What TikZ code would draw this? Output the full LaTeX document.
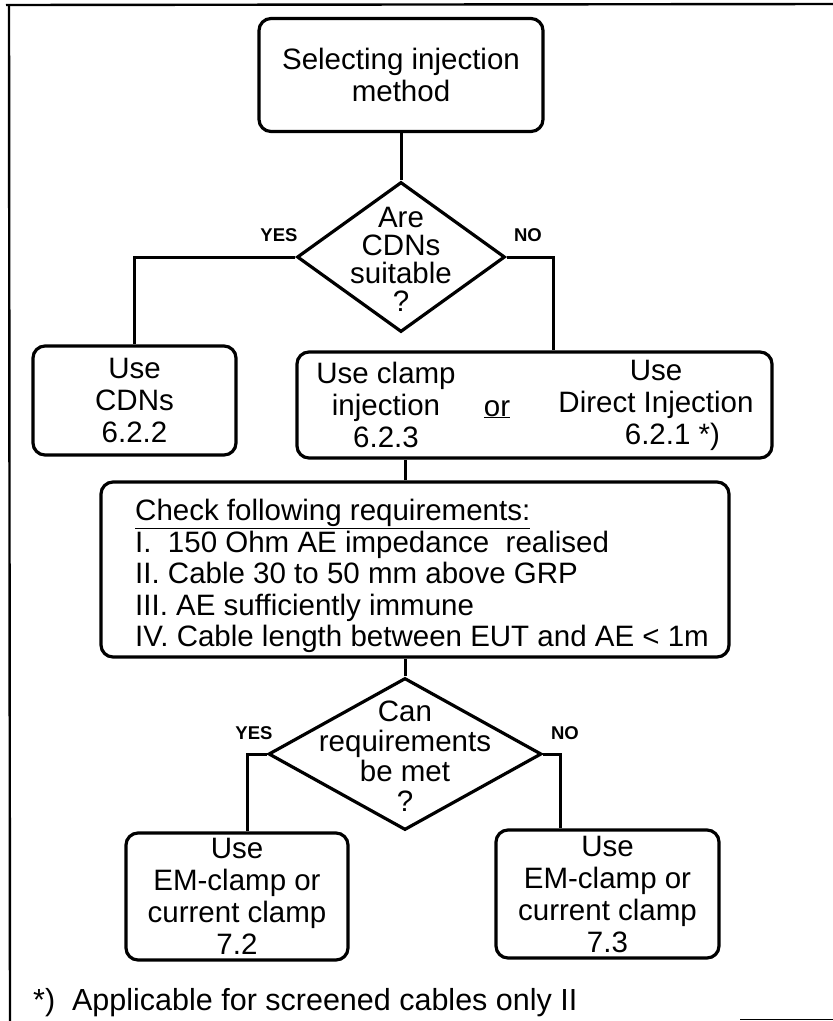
\documentclass[tikz,border=0pt]{standalone}
\usepackage{fontspec}
\setmainfont{Liberation Sans}
\usetikzlibrary{shapes.geometric}
\begin{document}
\begin{tikzpicture}[x=1pt,y=-1pt,
  box/.style={draw, line width=3.2pt, rounded corners=12pt, inner sep=0pt},
  dia/.style={draw, diamond, line width=3.2pt, inner sep=0pt},
  txt/.style={font=\fontsize{29.5}{32}\selectfont, align=center, inner sep=0pt},
  lbl/.style={font=\fontsize{18.5}{20}\selectfont\bfseries, inner sep=0pt},
  con/.style={line width=3pt},
  frame/.style={line width=2.4pt}]
\useasboundingbox (0,0) rectangle (833,1021);
% frame
\draw[frame] (6,5) -- (833,4);
\draw[frame] (9,5) -- (10,1021);
\draw[line width=1.5pt] (740,1019.5) -- (833,1019.5);
% nodes
\node[box, txt, minimum width=284pt, minimum height=113pt] (top) at (401,75) {Selecting injection\\method};
\node[dia, minimum width=208pt, minimum height=150pt] (d1) at (401,257) {};
\node[txt, font=\fontsize{29.5}{28}\selectfont] (d1txt) at (401,259) {Are\\CDNs\\suitable\\?};
\node[lbl] (yes1) at (279,235) {YES};
\node[lbl] (no1) at (528,235) {NO};
\node[box, txt, minimum width=203pt, minimum height=109pt] (cdn) at (134.5,400.5) {Use\\CDNs\\6.2.2};
\node[box, minimum width=475pt, minimum height=106pt] (clamp) at (534.5,405) {};
\node[txt] (clampL) at (386,405) {Use clamp\\injection\\6.2.3};
\node[txt, anchor=base] (clampOr) at (497,416) {\underline{or}};
\node[txt] (clampR) at (656,405) {Use\\Direct Injection\\\hphantom{00}6.2.1 *)};
\node[box, minimum width=628pt, minimum height=175pt] (check) at (415,569.5) {};
\node[txt, font=\fontsize{29.5}{31.5}\selectfont, align=left, anchor=west] (checktxt) at (135,576)
  {\underline{Check following requirements:}\\I.\ \ 150 Ohm AE impedance\ \ realised\\II. Cable 30 to 50 mm above GRP\\III. AE sufficiently immune\\IV. Cable length between EUT and AE < 1m};
\node[dia, minimum width=273pt, minimum height=152pt] (d2) at (405,754) {};
\node[txt, font=\fontsize{29.5}{30}\selectfont] (d2txt) at (405,756) {Can\\requirements\\be met\\?};
\node[lbl] (yes2) at (254,733) {YES};
\node[lbl] (no2) at (565,733) {NO};
\node[box, txt, minimum width=222pt, minimum height=127pt] (b72) at (237,896.5) {Use\\EM-clamp or\\current clamp\\7.2};
\node[box, txt, minimum width=223pt, minimum height=128pt] (b73) at (607.5,894) {Use\\EM-clamp or\\current clamp\\7.3};
\node[anchor=base west, inner sep=0pt, font=\fontsize{30.5}{31}\selectfont] (fn) at (33,1010) {*)\ \ Applicable for screened cables only II};
% connectors
\draw[con] (top.south) -- (d1.north);
\draw[con] (d1.west) -| (cdn.north);
\draw[con] (d1.east) -| ([xshift=18.5pt]clamp.north);
\draw[con] ([xshift=-10pt]check.north) -- ([xshift=-10pt]check.north |- clamp.south);
\draw[con] (d2.north) -- (d2.north |- check.south);
\draw[con] (d2.west) -| ([xshift=10pt]b72.north);
\draw[con] (d2.east) -| ([xshift=-47.5pt]b73.north);
\end{tikzpicture}
\end{document}
